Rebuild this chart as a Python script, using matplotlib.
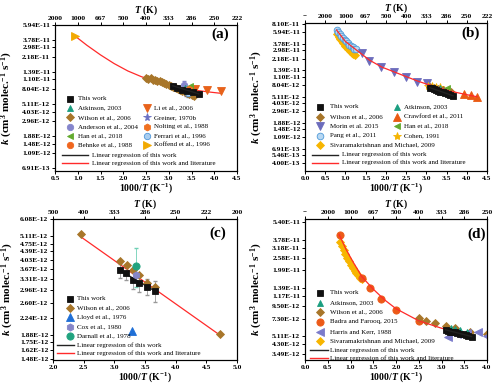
import numpy as np
import matplotlib
matplotlib.use('Agg')
import matplotlib.pyplot as plt
from matplotlib.lines import Line2D
from matplotlib.ticker import NullLocator

plt.rcParams['font.family'] = ['Liberation Serif', 'DejaVu Serif']
plt.rcParams['mathtext.fontset'] = 'custom'
plt.rcParams['mathtext.rm'] = 'Liberation Serif:bold'
plt.rcParams['mathtext.it'] = 'Liberation Serif:bold:italic'
plt.rcParams['mathtext.bf'] = 'Liberation Serif:bold'

# ---------------- data ----------------
# Panel (a)
a_this_x = [3.09, 3.19, 3.30, 3.41, 3.53, 3.66]
a_this_k = [9.0e-12, 8.5e-12, 8.0e-12, 7.7e-12, 7.3e-12, 7.0e-12]
a_wil_x = [2.50, 2.55, 2.60, 2.65, 2.70, 2.75, 2.80, 2.85, 2.90, 2.95, 3.00,
           3.05, 3.10, 3.15, 3.20, 3.25, 3.30, 3.35, 3.40, 3.45, 3.50, 3.55]
a_wil_k = [1.15e-11, 1.10e-11, 1.13e-11, 1.09e-11, 1.08e-11, 1.05e-11, 1.04e-11,
           1.02e-11, 9.8e-12, 9.5e-12, 9.2e-12, 8.9e-12, 8.6e-12, 8.4e-12, 8.1e-12,
           7.9e-12, 7.6e-12, 7.4e-12, 7.1e-12, 6.9e-12, 6.7e-12, 6.5e-12]
a_atk_x, a_atk_k = [3.35], [8.4e-12]
a_and_x, a_and_k, a_and_e = [3.33], [9.3e-12], [1.3e-12]
a_han_x, a_han_k = [3.47], [9.0e-12]
a_beh_x, a_beh_k = [3.40], [8.0e-12]
a_li_x, a_li_k = [3.57, 3.83, 4.15], [8.1e-12, 7.9e-12, 7.6e-12]
a_gre_x, a_gre_k, a_gre_e = [3.38], [7.6e-12], [1.0e-12]
a_nol_x, a_nol_k = [3.45], [8.1e-12]
a_fer_x, a_fer_k, a_fer_e = [3.43], [7.2e-12], [8e-13]
a_kof_x, a_kof_k = [0.93], [4.3e-11]
a_fit_x = [0.93, 1.2, 1.5, 1.8, 2.1, 2.4, 2.7, 3.0, 3.3, 3.6, 3.9, 4.16]
a_fit_k = [4.3e-11, 3.19e-11, 2.36e-11, 1.80e-11, 1.43e-11, 1.195e-11, 1.04e-11,
           9.26e-12, 8.42e-12, 7.81e-12, 7.4e-12, 7.1e-12]
a_lin_x, a_lin_k = [3.09, 3.66], [9.0e-12, 7.0e-12]
a_yt = [6.91e-13, 1.09e-12, 1.48e-12, 1.88e-12, 2.96e-12, 4.03e-12, 5.11e-12,
        8.04e-12, 1.10e-11, 1.39e-11, 2.18e-11, 2.98e-11, 3.78e-11, 5.94e-11]
a_yl = ['6.91E-13', '1.09E-12', '1.48E-12', '1.88E-12', '2.96E-12', '4.03E-12', '5.11E-12',
        '8.04E-12', '1.10E-11', '1.39E-11', '2.18E-11', '2.98E-11', '3.78E-11', '5.94E-11']
a_xt = [0.5, 1.0, 1.5, 2.0, 2.5, 3.0, 3.5, 4.0, 4.5]
a_top = ['2000', '1000', '667', '500', '400', '333', '286', '250', '222']

# Panel (b)
b_this_x = [3.09, 3.14, 3.19, 3.24, 3.30, 3.35, 3.41, 3.47, 3.53, 3.59, 3.66]
b_this_k = [7.2e-12, 7.0e-12, 6.8e-12, 6.6e-12, 6.4e-12, 6.2e-12, 6.0e-12, 5.9e-12,
            5.7e-12, 5.5e-12, 5.3e-12]
b_wil_x = [3.1, 3.2, 3.3, 3.4, 3.5, 3.6]
b_wil_k = [7.4e-12, 7.1e-12, 6.8e-12, 6.5e-12, 6.2e-12, 6.0e-12]
b_mor_x = [1.40, 1.58, 1.89, 2.21, 2.50, 2.78, 3.02]
b_mor_k = [2.75e-11, 2.03e-11, 1.56e-11, 1.32e-11, 1.10e-11, 9.1e-12, 8.5e-12]
b_pang_x = [0.78, 0.82, 0.86, 0.90, 0.94, 0.98, 1.02, 1.06, 1.10, 1.14, 1.18, 1.22, 1.26]
b_pang_k = [6.5e-11, 6.0e-11, 5.6e-11, 5.2e-11, 4.85e-11, 4.5e-11, 4.2e-11, 3.95e-11,
            3.7e-11, 3.5e-11, 3.35e-11, 3.2e-11, 3.1e-11]
b_siv_x = [0.79, 0.83, 0.87, 0.91, 0.95, 0.99, 1.03, 1.07, 1.11, 1.15, 1.19, 1.23]
b_siv_k = [5.5e-11, 5.0e-11, 4.6e-11, 4.25e-11, 3.9e-11, 3.6e-11, 3.35e-11, 3.1e-11,
           2.9e-11, 2.75e-11, 2.62e-11, 2.55e-11]
b_atk_x, b_atk_k = [3.35], [7.1e-12]
b_cra_x, b_cra_k = [3.93, 4.11, 4.25], [5.7e-12, 5.5e-12, 5.0e-12]
b_han_x, b_han_k = [3.50], [7.1e-12]
b_coh_x, b_coh_k = [3.05, 3.15, 3.25, 3.35], [7.7e-12, 7.6e-12, 7.5e-12, 7.3e-12]
b_fit_x = [0.78, 1.0, 1.2, 1.4, 1.6, 1.9, 2.2, 2.5, 2.8, 3.0, 3.3, 3.6, 3.9, 4.25]
b_fit_k = [6.5e-11, 4.2e-11, 3.3e-11, 2.6e-11, 2.05e-11, 1.58e-11, 1.32e-11, 1.1e-11,
           9.2e-12, 8.3e-12, 7.2e-12, 6.3e-12, 5.7e-12, 5.1e-12]
b_lin_x, b_lin_k = [3.09, 3.66], [7.2e-12, 5.3e-12]
b_yt = [4.00e-13, 5.46e-13, 6.91e-13, 1.09e-12, 1.48e-12, 1.88e-12, 2.96e-12, 4.03e-12,
        5.11e-12, 8.04e-12, 1.10e-11, 1.39e-11, 2.18e-11, 2.98e-11, 3.78e-11, 5.94e-11, 8.10e-11]
b_yl = ['4.00E-13', '5.46E-13', '6.91E-13', '1.09E-12', '1.48E-12', '1.88E-12', '2.96E-12',
        '4.03E-12', '5.11E-12', '8.04E-12', '1.10E-11', '1.39E-11', '2.18E-11', '2.98E-11',
        '3.78E-11', '5.94E-11', '8.10E-11']
b_xt = [0.0, 0.5, 1.0, 1.5, 2.0, 2.5, 3.0, 3.5, 4.0, 4.5]
b_top = ['--', '2000', '1000', '667', '500', '400', '333', '286', '250', '222']

# Panel (c)
c_this_x = [3.09, 3.19, 3.30, 3.41, 3.53, 3.66]
c_this_k = [3.62e-12, 3.52e-12, 3.28e-12, 3.18e-12, 3.06e-12, 2.94e-12]
c_this_e = [2.5e-13, 2.5e-13, 2.8e-13, 2.6e-13, 2.5e-13, 3.2e-13]
c_wil_x = [2.45, 3.10, 3.20, 3.30, 3.41, 3.53, 3.66, 4.72]
c_wil_k = [5.25e-12, 4.0e-12, 3.82e-12, 3.62e-12, 3.45e-12, 3.18e-12, 3.07e-12, 1.9e-12]
c_llo_x, c_llo_k = [3.29], [1.95e-12]
c_cox_x, c_cox_k = [3.36], [3.45e-12]
c_dar_x, c_dar_k, c_dar_e = [3.35], [3.8e-12], [7.5e-13]
c_fit_x, c_fit_k = [2.45, 4.72], [5.1e-12, 1.88e-12]
c_lin_x, c_lin_k = [3.09, 3.66], [3.62e-12, 2.94e-12]
c_yt = [1.48e-12, 1.62e-12, 1.75e-12, 1.88e-12, 2.24e-12, 2.60e-12, 2.96e-12, 3.31e-12,
        3.67e-12, 4.03e-12, 4.39e-12, 4.75e-12, 5.11e-12, 6.08e-12]
c_yl = ['1.48E-12', '1.62E-12', '1.75E-12', '1.88E-12', '2.24E-12', '2.60E-12', '2.96E-12',
        '3.31E-12', '3.67E-12', '4.03E-12', '4.39E-12', '4.75E-12', '5.11E-12', '6.08E-12']
c_xt = [2.0, 2.5, 3.0, 3.5, 4.0, 4.5, 5.0]
c_top = ['500', '400', '333', '286', '250', '222', '200']

# Panel (d)
d_this_x = [3.09, 3.14, 3.19, 3.24, 3.30, 3.35, 3.41, 3.47, 3.53, 3.59, 3.66]
d_this_k = [5.8e-12, 5.7e-12, 5.6e-12, 5.55e-12, 5.5e-12, 5.4e-12, 5.35e-12, 5.3e-12,
            5.2e-12, 5.15e-12, 5.05e-12]
d_atk_x, d_atk_k = [3.20, 3.30, 3.40, 3.55], [6.0e-12, 5.9e-12, 5.8e-12, 5.6e-12]
d_wil_x = [2.50, 2.67, 2.86, 3.10, 3.30, 3.63, 4.00]
d_wil_k = [7.4e-12, 7.0e-12, 6.7e-12, 6.3e-12, 6.0e-12, 5.6e-12, 5.3e-12]
d_bad_x = [0.77, 1.25, 1.43, 1.67, 2.00, 2.50]
d_bad_k = [4.2e-11, 1.7e-11, 1.37e-11, 1.11e-11, 8.7e-12, 7.0e-12]
d_har_x = [3.15, 3.35, 3.55, 3.80, 4.00]
d_har_k = [5.0e-12, 5.3e-12, 5.4e-12, 5.5e-12, 5.1e-12]
d_siv_x = [0.77, 0.81, 0.85, 0.89, 0.93, 0.97, 1.01, 1.05, 1.09, 1.13, 1.17, 1.21, 1.25]
d_siv_k = [3.6e-11, 3.3e-11, 3.05e-11, 2.8e-11, 2.6e-11, 2.4e-11, 2.25e-11, 2.1e-11,
           1.98e-11, 1.88e-11, 1.8e-11, 1.72e-11, 1.66e-11]
d_fit_x = [0.75, 0.9, 1.05, 1.25, 1.5, 1.75, 2.0, 2.5, 3.0, 3.65]
d_fit_k = [4.2e-11, 3.1e-11, 2.4e-11, 1.75e-11, 1.35e-11, 1.08e-11, 9.0e-12, 7.0e-12,
           6.0e-12, 5.2e-12]
d_lin_x, d_lin_k = [3.09, 3.66], [5.8e-12, 5.05e-12]
d_yt = [3.49e-12, 4.30e-12, 5.11e-12, 7.30e-12, 9.50e-12, 1.17e-11, 1.39e-11, 1.99e-11,
        2.58e-11, 3.18e-11, 3.78e-11, 5.40e-11]
d_yl = ['3.49E-12', '4.30E-12', '5.11E-12', '7.30E-12', '9.50E-12', '1.17E-11', '1.39E-11',
        '1.99E-11', '2.58E-11', '3.18E-11', '3.78E-11', '5.40E-11']
d_xt = [0.0, 0.5, 1.0, 1.5, 2.0, 2.5, 3.0, 3.5, 4.0]
d_top = ['--', '2000', '1000', '667', '500', '400', '333', '286', '250']

# ---------------- styles ----------------
RED = '#ff2a2a'
S = {
    'this': dict(marker='s', color='#111111', ms=4.3),
    'atk': dict(marker='^', color='#1a9e80', ms=4.8),
    'wil': dict(marker='D', color='#a8762a', ms=4.0),
    'and': dict(marker='o', color='#8585cc', ms=4.6),
    'han': dict(marker='<', color='#62aa2e', ms=4.8),
    'beh': dict(marker='o', color='#f0661e', ms=4.6),
    'li': dict(marker='v', color='#e8621a', ms=5.2),
    'gre': dict(marker='*', color='#6a6fc2', ms=5.8),
    'nol': dict(marker='h', color='#f07020', ms=5.0),
    'fer': dict(marker='o', color='#a9cdef', mec='#4f96d8', ms=4.6),
    'kof': dict(marker='>', color='#f2a900', ms=5.5),
    'cra': dict(marker='^', color='#ea5a12', ms=5.2),
    'mor': dict(marker='v', color='#6c6cbc', ms=5.2),
    'pang': dict(marker='o', color='#b8d8f3', mec='#4f9ad8', ms=4.8),
    'coh': dict(marker='*', color='#f5b400', ms=6.0),
    'siv': dict(marker='D', color='#f7b500', ms=4.0),
    'llo': dict(marker='^', color='#1f6fd6', ms=5.2),
    'cox': dict(marker='h', color='#8686c8', ms=5.2),
    'dar': dict(marker='o', color='#21a37f', ms=5.2),
    'bad': dict(marker='o', color='#ec5a18', ms=5.2),
    'har': dict(marker='<', color='#7b7bcb', ms=5.2),
}
TICKFS = 5.4
LEGFS = 5.0

fig = plt.figure(figsize=(5, 3.87), dpi=100)
FW, FH = 500.0, 387.0


def pos(l, r, t, b):
    return [l / FW, 1 - b / FH, (r - l) / FW, (b - t) / FH]


def pts(ax, x, y, key, z=3):
    st = S[key]
    mec = st.get('mec', st['color'])
    ax.plot(x, y, linestyle='none', marker=st['marker'], markersize=st['ms'],
            markerfacecolor=st['color'], markeredgecolor=mec,
            markeredgewidth=0.6, zorder=z)


def fx(px):
    return px / FW


def fy(py):
    return 1 - py / FH


def leg_marker(key, xm, xt, y, label):
    st = S[key]
    mec = st.get('mec', st['color'])
    fig.add_artist(Line2D([fx(xm)], [fy(y)], transform=fig.transFigure, linestyle='none',
                          marker=st['marker'], markersize=st['ms'], markerfacecolor=st['color'],
                          markeredgecolor=mec, markeredgewidth=0.6))
    fig.text(fx(xt), fy(y), label, fontsize=LEGFS, va='center', ha='left')


def leg_lines(x1, x2, xt, y1, y2):
    fig.add_artist(Line2D([fx(x1), fx(x2)], [fy(y1), fy(y1)], transform=fig.transFigure,
                          color='#222222', lw=1.0))
    fig.text(fx(xt), fy(y1), 'Linear regression of this work', fontsize=LEGFS,
             va='center', ha='left')
    fig.add_artist(Line2D([fx(x1), fx(x2)], [fy(y2), fy(y2)], transform=fig.transFigure,
                          color=RED, lw=1.0))
    fig.text(fx(xt), fy(y2), 'Linear regression of this work and literature', fontsize=LEGFS,
             va='center', ha='left')


def setup(ax, xlim, ylim, xt, top, yt, yl, letter, lpos, ylab_x):
    ax.set_yscale('log')
    ax.set_xlim(*xlim)
    ax.set_ylim(*ylim)
    ax.set_yticks(yt)
    ax.set_yticklabels(yl)
    ax.yaxis.set_minor_locator(NullLocator())
    ax.set_xticks(xt)
    ax.set_xticklabels([('%.1f' % v) for v in xt])
    ax.tick_params(axis='both', labelsize=TICKFS, length=2.2, width=0.7, pad=1.2, direction='out')
    for lab in ax.get_xticklabels() + ax.get_yticklabels():
        lab.set_fontweight('bold')
    for sp in ax.spines.values():
        sp.set_linewidth(0.8)
    ax.set_xlabel(r'1000/$T$ (K$^{-1}$)', fontsize=7, fontweight='bold', labelpad=0.3)
    ax.set_ylabel(r'$k$ (cm$^{3}$ molec.$^{-1}$ s$^{-1}$)', fontsize=8, fontweight='bold')
    ax.yaxis.set_label_coords(ylab_x, 0.5)
    ax2 = ax.twiny()
    ax2.set_xlim(*xlim)
    ax2.set_xticks(xt)
    ax2.set_xticklabels(top)
    ax2.tick_params(axis='x', labelsize=TICKFS, length=2.2, width=0.7, pad=1)
    for lab in ax2.get_xticklabels():
        lab.set_fontweight('bold')
    ax2.set_xlabel(r'$T$ (K)', fontsize=7, fontweight='bold', labelpad=2.0)
    ax.text(lpos[0], lpos[1], letter, transform=ax.transAxes, ha='center', va='center',
            fontsize=11, fontweight='bold')
    return ax2


# ---------------- panel (a) ----------------
ax = fig.add_axes(pos(55, 237, 25, 171))
setup(ax, (0.5, 4.5), (6.3e-13, 6.0e-11), a_xt, a_top, a_yt, a_yl, '(a)', (0.907, 0.934), -0.222)
ax.plot(a_fit_x, a_fit_k, color=RED, lw=0.9, zorder=2)
pts(ax, a_wil_x, a_wil_k, 'wil')
pts(ax, a_li_x, a_li_k, 'li')
pts(ax, a_kof_x, a_kof_k, 'kof')
ax.errorbar(a_and_x, a_and_k, yerr=a_and_e, fmt='none', ecolor=S['and']['color'], elinewidth=0.6, capsize=1.5)
ax.errorbar(a_gre_x, a_gre_k, yerr=a_gre_e, fmt='none', ecolor=S['gre']['color'], elinewidth=0.6, capsize=1.5)
ax.errorbar(a_fer_x, a_fer_k, yerr=a_fer_e, fmt='none', ecolor=S['fer']['mec'], elinewidth=0.6, capsize=1.5)
pts(ax, a_and_x, a_and_k, 'and')
pts(ax, a_atk_x, a_atk_k, 'atk')
pts(ax, a_han_x, a_han_k, 'han')
pts(ax, a_beh_x, a_beh_k, 'beh')
pts(ax, a_nol_x, a_nol_k, 'nol')
pts(ax, a_gre_x, a_gre_k, 'gre')
pts(ax, a_fer_x, a_fer_k, 'fer')
pts(ax, a_this_x, a_this_k, 'this', z=4)
ax.plot(a_lin_x, a_lin_k, color='#222222', lw=1.0, zorder=5)
rows = [99, 108.2, 117.4, 126.6, 135.8, 145]
for (k, l), y in zip([('this', 'This work'), ('atk', 'Atkinson, 2003'),
                      ('wil', 'Wilson et al., 2006'), ('and', 'Anderson et al., 2004'),
                      ('han', 'Han et al., 2018'), ('beh', 'Behnke et al., 1988')], rows):
    leg_marker(k, 70, 78, y, l)
for (k, l), y in zip([('li', 'Li et al., 2006'), ('gre', 'Greiner, 1970b'),
                      ('nol', 'Nolting et al., 1988'), ('fer', 'Ferrari et al., 1996'),
                      ('kof', 'Koffend et al., 1996')], rows[1:]):
    leg_marker(k, 147, 154, y, l)
leg_lines(62, 88, 92, 155, 163)

# ---------------- panel (b) ----------------
ax = fig.add_axes(pos(305, 487, 23, 171))
setup(ax, (0.0, 4.5), (3.0e-13, 8.5e-11), b_xt, b_top, b_yt, b_yl, '(b)', (0.907, 0.93), -0.222)
pts(ax, b_siv_x, b_siv_k, 'siv')
pts(ax, b_pang_x, b_pang_k, 'pang')
ax.plot(b_fit_x, b_fit_k, color=RED, lw=0.9, zorder=4)
pts(ax, b_mor_x, b_mor_k, 'mor')
pts(ax, b_cra_x, b_cra_k, 'cra')
pts(ax, b_coh_x, b_coh_k, 'coh')
pts(ax, b_wil_x, b_wil_k, 'wil')
pts(ax, b_atk_x, b_atk_k, 'atk')
pts(ax, b_han_x, b_han_k, 'han')
pts(ax, b_this_x, b_this_k, 'this', z=4)
ax.plot(b_lin_x, b_lin_k, color='#222222', lw=1.0, zorder=5)
rows = [107, 116.5, 126, 135.5, 145]
for (k, l), y in zip([('this', 'This work'), ('wil', 'Wilson et al., 2006'),
                      ('mor', 'Morin et al. 2015'), ('pang', 'Pang et al., 2011'),
                      ('siv', 'Sivaramakrishnan and Michael, 2009')], rows):
    leg_marker(k, 320, 330, y, l)
for (k, l), y in zip([('atk', 'Atkinson, 2003'), ('cra', 'Crawford et al., 2011'),
                      ('han', 'Han et al., 2018'), ('coh', 'Cohen, 1991')], rows):
    leg_marker(k, 397, 404, y, l)
leg_lines(312, 338, 342, 154.5, 162.5)

# ---------------- panel (c) ----------------
ax = fig.add_axes(pos(53, 237, 219, 360))
setup(ax, (2.0, 5.0), (1.46e-12, 6.1e-12), c_xt, c_top, c_yt, c_yl, '(c)', (0.897, 0.9), -0.2)
ax.plot(c_fit_x, c_fit_k, color=RED, lw=0.9, zorder=2)
ax.errorbar(c_this_x, c_this_k, yerr=c_this_e, fmt='none', ecolor='#999999', elinewidth=0.6, capsize=1.5)
ax.errorbar(c_dar_x, c_dar_k, yerr=c_dar_e, fmt='none', ecolor='#6fd0b5', elinewidth=0.6, capsize=1.5)
pts(ax, c_wil_x, c_wil_k, 'wil')
pts(ax, c_this_x, c_this_k, 'this', z=4)
pts(ax, c_cox_x, c_cox_k, 'cox', z=5)
pts(ax, c_dar_x, c_dar_k, 'dar', z=5)
pts(ax, c_llo_x, c_llo_k, 'llo', z=5)
ax.plot(c_lin_x, c_lin_k, color='#222222', lw=1.0, zorder=1)
rows = [299, 308.2, 317.4, 326.6, 335.8]
for (k, l), y in zip([('this', 'This work'), ('wil', 'Wilson et al., 2006'),
                      ('llo', 'Lloyd et al., 1976'), ('cox', 'Cox et al., 1980'),
                      ('dar', 'Darnall et al., 1978')], rows):
    leg_marker(k, 70, 77, y, l)
leg_lines(57, 74, 77, 345, 353)

# ---------------- panel (d) ----------------
ax = fig.add_axes(pos(305, 487, 219, 360))
setup(ax, (0.0, 4.0), (3.1e-12, 5.8e-11), d_xt, d_top, d_yt, d_yl, '(d)', (0.945, 0.89), -0.222)
pts(ax, d_siv_x, d_siv_k, 'siv')
ax.plot(d_fit_x, d_fit_k, color=RED, lw=0.9, zorder=4)
pts(ax, d_bad_x, d_bad_k, 'bad')
pts(ax, d_wil_x, d_wil_k, 'wil')
pts(ax, d_har_x, d_har_k, 'har')
pts(ax, d_atk_x, d_atk_k, 'atk')
pts(ax, d_this_x, d_this_k, 'this', z=4)
ax.plot(d_lin_x, d_lin_k, color='#222222', lw=1.0, zorder=5)
rows = [293, 302.5, 312, 321.5, 331.5, 341]
for (k, l), y in zip([('this', 'This work'), ('atk', 'Atkinson, 2003'),
                      ('wil', 'Wilson et al., 2006'), ('bad', 'Badra and Farooq, 2015'),
                      ('har', 'Harris and Kerr, 1988'),
                      ('siv', 'Sivaramakrishnan and Michael, 2009')], rows):
    leg_marker(k, 320, 330, y, l)
leg_lines(310, 328, 330, 350, 358)

fig.savefig('out.png', dpi=100)
